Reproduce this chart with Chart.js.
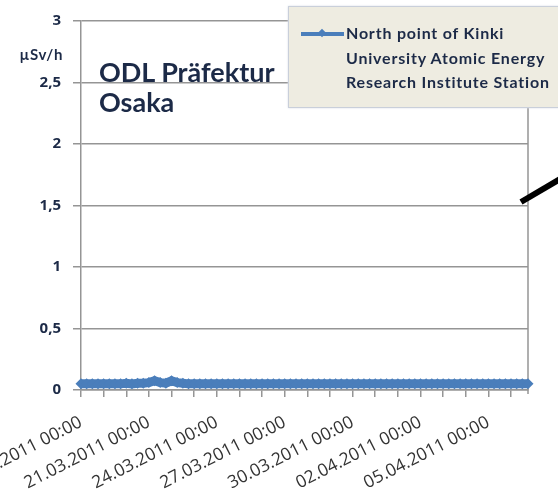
<!DOCTYPE html>
<html>
<head>
<meta charset="utf-8">
<script src="https://cdn.jsdelivr.net/npm/chart.js@4.4.1/dist/chart.umd.min.js"></script>
<style>
  body { margin: 0; background: #fff; }
  #wrap { position: relative; width: 558px; height: 498px; overflow: hidden; font-family: Lato, "Open Sans", sans-serif; }
  #title { position: absolute; left: 99px; top: 57px; font-size: 27px; font-weight: 700; line-height: 30px; color: #1c2a47; }
  #unit { position: absolute; left: 0; width: 63px; top: 45px; text-align: right; font-size: 15px; font-weight: 700; letter-spacing: 0.6px; color: #1c2a47; }
  #legend { position: absolute; left: 288px; top: 6px; width: 300px; height: 100px; background: #eeece1;
            border: 1px solid #c9cfda; box-shadow: 0 0 2px #d8dde6; }
  #legend .sample { position: absolute; left: 12px; top: 25px; width: 43px; height: 4px; background: #4a7ebb; }
  #legend .sample::after { content: ''; position: absolute; left: 18px; top: -2px; width: 6px; height: 6px; background: #4a7ebb; transform: rotate(45deg); }
  #legend .text { position: absolute; left: 57px; top: 14px; font-size: 16px; font-weight: 700; letter-spacing: 0.8px; line-height: 24.5px; color: #1c2a47; white-space: nowrap; }
</style>
</head>
<body>
<div id="wrap">
  <canvas id="odl" width="558" height="498"></canvas>
  <div id="unit">µSv/h</div>
  <div id="title">ODL Präfektur<br>Osaka</div>
  <div id="legend"><div class="sample"></div><div class="text" id="legendText"></div></div>
</div>
<script>
// Messstation und Beschriftungen
const stationName = 'North point of Kinki University Atomic Energy Research Institute Station';
const legendLines = ['North point of Kinki', 'University Atomic Energy', 'Research Institute Station'];
const dateLabels = ['18.03.2011 00:00', '21.03.2011 00:00', '24.03.2011 00:00', '27.03.2011 00:00',
                    '30.03.2011 00:00', '02.04.2011 00:00', '05.04.2011 00:00'];

// Ortsdosisleistung in µSv/h, alle 6 Stunden ab 18.03.2011 00:00
const stepHours = 6;
const odl = [
  0.05, 0.05, 0.05, 0.05, 0.05, 0.05, 0.05, 0.05,
  0.055, 0.05, 0.055, 0.055, 0.06, 0.075, 0.06, 0.055,
  0.075, 0.06, 0.055, 0.05, 0.05, 0.05, 0.05, 0.05,
  0.05, 0.05, 0.05, 0.05, 0.05, 0.05, 0.05, 0.05,
  0.05, 0.05, 0.05, 0.05, 0.05, 0.05, 0.05, 0.05,
  0.05, 0.05, 0.05, 0.05, 0.05, 0.05, 0.05, 0.05,
  0.05, 0.05, 0.05, 0.05, 0.05, 0.05, 0.05, 0.05,
  0.05, 0.05, 0.05, 0.05, 0.05, 0.05, 0.05, 0.05,
  0.05, 0.05, 0.05, 0.05, 0.05, 0.05, 0.05, 0.05,
  0.05, 0.05, 0.05, 0.05, 0.05, 0.05, 0.05, 0.05
];

const gridGray = '#959595';
const lineBlue = '#4a7ebb';

document.getElementById('legendText').innerHTML = legendLines.join('<br>');

// Rahmen rechts und schwarzer Zeiger
const extras = {
  id: 'extras',
  beforeDatasetsDraw(chart) {
    const { ctx, chartArea } = chart;
    ctx.save();
    ctx.strokeStyle = gridGray;
    ctx.lineWidth = 1.5;
    ctx.beginPath();
    ctx.moveTo(chartArea.right, chartArea.top);
    ctx.lineTo(chartArea.right, chartArea.bottom + 4);
    ctx.stroke();
    ctx.restore();
  },
  afterDraw(chart) {
    const { ctx, chartArea } = chart;
    ctx.save();
    ctx.strokeStyle = '#000';
    ctx.lineWidth = 6;
    ctx.beginPath();
    ctx.moveTo(chartArea.right - 7, 202);
    ctx.lineTo(chartArea.right + 34, 178);
    ctx.stroke();
    ctx.restore();
  }
};

new Chart(document.getElementById('odl').getContext('2d'), {
  type: 'line',
  data: {
    datasets: [{
      label: stationName,
      data: odl.map((v, i) => ({ x: i * stepHours, y: v })),
      borderColor: lineBlue,
      backgroundColor: lineBlue,
      borderWidth: 9,
      pointStyle: 'rectRot',
      pointRadius: 5.5,
      pointBorderWidth: 0,
      tension: 0,
      clip: false
    }]
  },
  options: {
    responsive: false,
    animation: false,
    layout: { padding: { top: 19, right: 30, left: 0, bottom: 0 } },
    plugins: { legend: { display: false }, tooltip: { enabled: false } },
    scales: {
      x: {
        type: 'linear',
        min: 0,
        max: (odl.length - 1) * stepHours,
        grid: { drawOnChartArea: false, color: gridGray, tickLength: 7, lineWidth: 1.5 },
        border: { color: gridGray, width: 1.5 },
        ticks: {
          stepSize: 24,
          includeBounds: false,
          autoSkip: false,
          minRotation: 27,
          maxRotation: 27,
          padding: 15,
          color: '#333',
          font: { family: 'Open Sans', size: 17.5 },
          callback: v => (v % 72 === 0 ? dateLabels[v / 72] : '')
        },
        afterFit: s => { s.height = 108; s.paddingLeft = 0; s.paddingRight = 0; }
      },
      y: {
        min: 0,
        max: 3,
        grid: { color: gridGray, tickLength: 8, lineWidth: 1.5 },
        border: { color: gridGray, width: 1.5 },
        ticks: {
          stepSize: 0.5,
          padding: 12,
          color: '#1c2a47',
          font: { family: 'Open Sans', size: 15, weight: 'bold' },
          callback: v => String(v).replace('.', ',')
        },
        afterFit: s => { s.width = 81; }
      }
    }
  },
  plugins: [extras]
});
</script>
</body>
</html>
